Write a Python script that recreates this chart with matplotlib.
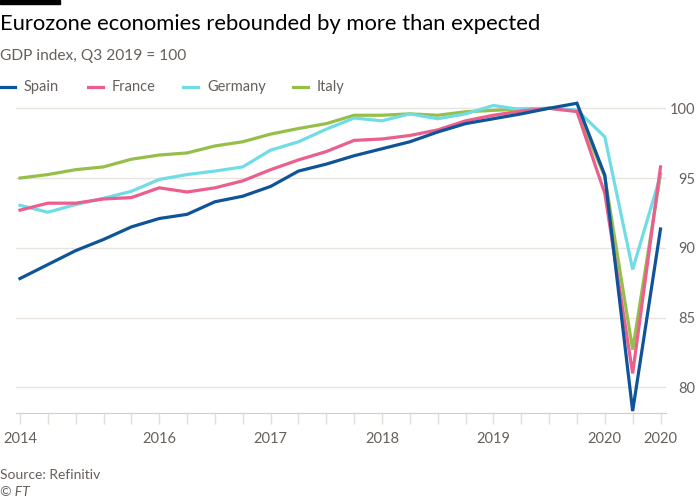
import numpy as np
import matplotlib.pyplot as plt
from matplotlib.lines import Line2D

plt.rcParams['font.family'] = ['Lato', 'DejaVu Sans']

# quarterly GDP index, Q4 2014 .. Q3 2020 (Q3 2019 = 100)
quarters = np.arange(24)
spain = [87.8, 88.8, 89.8, 90.6, 91.5, 92.1, 92.4, 93.3,
         93.7, 94.4, 95.5, 96.0, 96.6, 97.1, 97.6, 98.3,
         98.9, 99.25, 99.6, 100.0, 100.36, 95.2, 78.3, 91.35]
france = [92.7, 93.2, 93.2, 93.5, 93.6, 94.3, 94.0, 94.3,
          94.8, 95.6, 96.3, 96.9, 97.7, 97.8, 98.05, 98.45,
          99.1, 99.5, 99.8, 100.0, 99.76, 93.9, 81.0, 95.8]
germany = [93.05, 92.55, 93.1, 93.55, 94.05, 94.9, 95.25, 95.5,
           95.8, 97.0, 97.6, 98.5, 99.3, 99.1, 99.6, 99.25,
           99.6, 100.2, 99.9, 100.0, 99.88, 97.95, 88.45, 95.2]
italy = [95.0, 95.25, 95.6, 95.8, 96.35, 96.65, 96.8, 97.3,
         97.6, 98.15, 98.55, 98.9, 99.5, 99.5, 99.6, 99.5,
         99.75, 99.85, 99.95, 100.0, 99.83, 95.1, 82.7, 95.3]

names = ['Spain', 'France', 'Germany', 'Italy']
colors = ['#0f5499', '#eb5e8d', '#70dce6', '#96bf4a']

# which quarters carry a year label
xlabels = {0: '2014', 5: '2016', 9: '2017', 13: '2018', 17: '2019', 21: '2020', 23: '2020'}
yticks = [80, 85, 90, 95, 100]

grey = '#66605c'

fig = plt.figure(figsize=(7, 5), dpi=100)
ax = fig.add_axes([16/700, 1 - 412.5/500, 650/700, 312.6/500])

series = [spain, france, germany, italy]
for i in [3, 2, 1, 0]:
    ax.plot(quarters, series[i], color=colors[i], lw=2.3, solid_joinstyle='miter', zorder=3)

ax.set_xlim(-4/27.87, 23 + 5.5/27.87)
ax.set_ylim(78.2, 100.6)

ax.set_yticks(yticks)
ax.yaxis.set_ticks_position('right')
ax.tick_params(axis='y', length=0, pad=21, labelsize=10.5, labelcolor=grey)
for lab in ax.get_yticklabels():
    lab.set_horizontalalignment('right')
ax.grid(axis='y', color='#e9e3dd', lw=1)
ax.set_axisbelow(True)

ax.set_xticks(quarters)
ax.set_xticklabels([xlabels.get(q, '') for q in quarters])
ax.tick_params(axis='x', length=8, color='#e6ded6', width=1, pad=6,
               labelsize=10.5, labelcolor=grey)

for s in ['top', 'left', 'right']:
    ax.spines[s].set_visible(False)
ax.spines['bottom'].set_color('#d6ccc2')

# title block
fig.patches.append(plt.Rectangle((0, 1 - 4/500), 60/700, 4/500, transform=fig.transFigure,
                                 color='black', zorder=5))
fig.text(0, 1 - 24/500, 'Eurozone economies rebounded by more than expected',
         fontsize=15.8, color='black', va='center', ha='left')
fig.text(0, 1 - 56/500, 'GDP index, Q3 2019 = 100', fontsize=11.2, color=grey,
         va='center', ha='left')

# legend
leg_x = [0, 88, 183, 293]
for i in range(4):
    x0 = leg_x[i] / 700
    fig.add_artist(Line2D([x0, x0 + 15/700], [1 - 87/500]*2, color=colors[i], lw=2.3,
                          transform=fig.transFigure))
    fig.text(x0 + 24/700, 1 - 87/500, names[i], fontsize=10.5, color=grey,
             va='center', ha='left')

fig.text(0, 1 - 475/500, 'Source: Refinitiv', fontsize=10, color=grey, va='center', ha='left')
fig.text(0, 1 - 492/500, '© FT', fontsize=10, color=grey, va='center', ha='left', style='italic')

fig.savefig('out.png', dpi=100, facecolor='white')
